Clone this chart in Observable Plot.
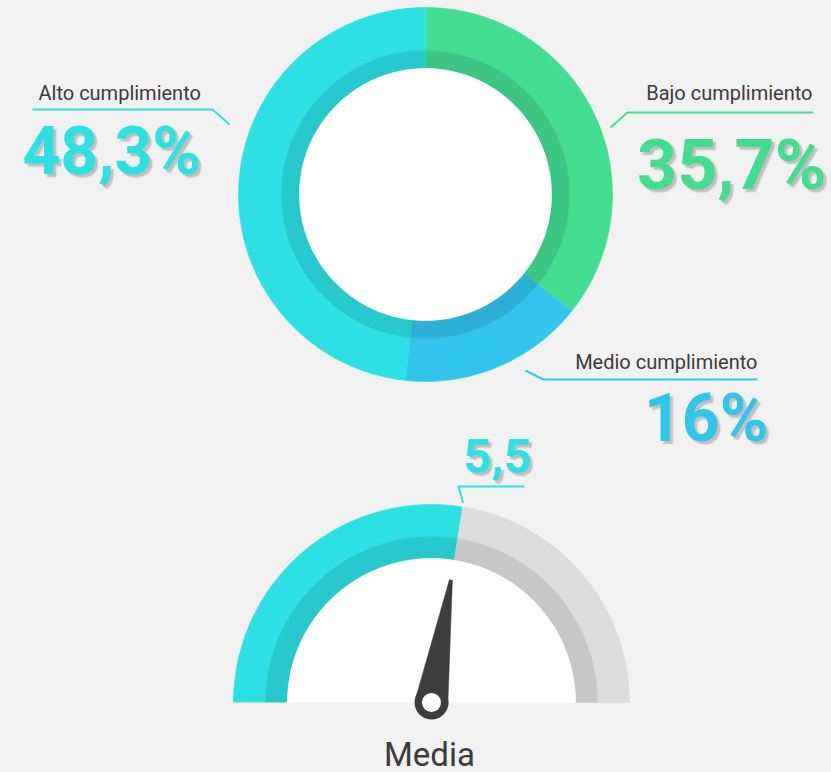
<!DOCTYPE html>
<html>
<head>
<meta charset="utf-8">
<script src="https://cdn.jsdelivr.net/npm/d3@7"></script>
<script src="https://cdn.jsdelivr.net/npm/@observablehq/plot@0.6"></script>
<style>
  html, body { margin: 0; padding: 0; background: #f2f2f2; }
  #chart { width: 831px; height: 772px; }
  .bignum text { text-shadow: 3px 3px 1.5px rgba(150,150,150,0.55); }
</style>
</head>
<body>
<div id="chart"></div>
<script>
// ---- Data ----
const categories = ["Bajo cumplimiento", "Medio cumplimiento", "Alto cumplimiento"];
const shares = [35.7, 16, 48.3];
const shareLabels = ["35,7%", "16%", "48,3%"];
const segColors = ["#42dd8f", "#32c5eb", "#2de0e3"];
const segDark = ["#3bc683", "#2cb0d6", "#27c8cb"];

const gaugeValue = 5.5;
const gaugeMax = 10;
const gaugeValueLabel = "5,5";
const gaugeTitle = "Media";
const gaugeColors = ["#2de0e3", "#dcdcdc"];
const gaugeDark = ["#27c8cb", "#c6c6c6"];

// ---- Layout ----
const W = 831, H = 772;
const donut = {cx: 425, cy: 194, rOut: 187, rMid: 144, rIn: 126};
const gauge = {cx: 431, cy: 702, rOut: 198, rMid: 166, rIn: 144};
const labelLayout = {
  "Alto cumplimiento": {anchor: "start", x: 38, titleY: 99, valueX: 22, valueY: 173, size: 66,
    leader: [[32, 109], [212, 109], [229, 124]]},
  "Bajo cumplimiento": {anchor: "end", x: 812, titleY: 99, valueX: 826, valueY: 188, size: 70,
    leader: [[813, 112], [627, 112], [610, 127]]},
  "Medio cumplimiento": {anchor: "end", x: 757, titleY: 368, valueX: 768, valueY: 440, size: 66,
    leader: [[757, 379], [543, 379], [525, 370]]}
};

// ---- Geometry helpers ----
const rad = a => a * Math.PI / 180;
function arcPts(cx, cy, r, a0, a1) {
  const n = Math.max(2, Math.ceil(Math.abs(a1 - a0)));
  const pts = [];
  for (let i = 0; i <= n; i++) {
    const a = rad(a0 + (a1 - a0) * i / n);
    pts.push([cx + r * Math.sin(a), cy - r * Math.cos(a)]);
  }
  return pts;
}
function ring(id, color, cx, cy, rIn, rOut, a0, a1) {
  const pts = [...arcPts(cx, cy, rOut, a0, a1), ...arcPts(cx, cy, rIn, a1, a0)];
  return pts.map(([x, y]) => ({id, color, x, y}));
}

const polys = [];
// donut
const angle = d3.scaleLinear().domain([0, d3.sum(shares)]).range([0, 360]);
let cum = 0;
shares.forEach((v, i) => {
  const a0 = angle(cum), a1 = angle(cum + v);
  cum += v;
  polys.push(...ring("o" + i, segColors[i], donut.cx, donut.cy, donut.rMid, donut.rOut, a0, a1));
  polys.push(...ring("d" + i, segDark[i], donut.cx, donut.cy, donut.rIn, donut.rMid, a0, a1));
});
polys.push(...ring("hole", "#ffffff", donut.cx, donut.cy, 0, donut.rIn, 0, 360));

// gauge
const gAngle = d3.scaleLinear().domain([0, gaugeMax]).range([-90, 90]);
const gSegs = [[0, gaugeValue], [gaugeValue, gaugeMax]];
gSegs.forEach(([v0, v1], i) => {
  polys.push(...ring("go" + i, gaugeColors[i], gauge.cx, gauge.cy, gauge.rMid, gauge.rOut, gAngle(v0), gAngle(v1)));
  polys.push(...ring("gd" + i, gaugeDark[i], gauge.cx, gauge.cy, gauge.rIn, gauge.rMid, gAngle(v0), gAngle(v1)));
});
polys.push(...ring("ghole", "#ffffff", gauge.cx, gauge.cy, 0, gauge.rIn, -90, 90));

// needle
const na = rad(gAngle(gaugeValue));
const needleLen = 124, baseHalf = 16.5, tipHalf = 1.5;
const ux = Math.sin(na), uy = -Math.cos(na);
const px = Math.cos(na), py = Math.sin(na);
const needle = [
  [gauge.cx + baseHalf * px, gauge.cy + baseHalf * py],
  [gauge.cx + needleLen * ux + tipHalf * px, gauge.cy + needleLen * uy + tipHalf * py],
  [gauge.cx + needleLen * ux - tipHalf * px, gauge.cy + needleLen * uy - tipHalf * py],
  [gauge.cx - baseHalf * px, gauge.cy - baseHalf * py]
].map(([x, y]) => ({id: "needle", color: "#3d3d3d", x, y}));

// leader lines
const leaders = [];
categories.forEach((c, i) => {
  labelLayout[c].leader.forEach(([x, y]) => leaders.push({id: c, color: segColors[i], x, y}));
});
const gLeadStart = [gauge.cx + (gauge.rOut + 4) * Math.sin(na), gauge.cy - (gauge.rOut + 4) * Math.cos(na)];
[[gLeadStart[0], gLeadStart[1]], [458, 486], [524, 486]].forEach(([x, y]) =>
  leaders.push({id: "gauge", color: gaugeColors[0], x, y}));

// ---- Marks ----
const font = "Roboto, 'Noto Sans', sans-serif";
const marks = [
  Plot.line(polys, {x: "x", y: "y", z: "id", fill: "color", stroke: "color", strokeWidth: 0.6, curve: "linear"}),
  Plot.line(needle, {x: "x", y: "y", z: "id", fill: "color", stroke: "color", strokeWidth: 0.5, curve: "linear"}),
  Plot.dot([{x: gauge.cx, y: gauge.cy}], {x: "x", y: "y", r: 17, fill: "#3d3d3d", stroke: null}),
  Plot.dot([{x: gauge.cx, y: gauge.cy}], {x: "x", y: "y", r: 9.5, fill: "#ffffff", stroke: null}),
  Plot.line(leaders, {x: "x", y: "y", z: "id", stroke: "color", strokeWidth: 2, curve: "linear", strokeLinecap: "butt"})
];

categories.forEach((c, i) => {
  const L = labelLayout[c];
  marks.push(Plot.text([{x: L.x, y: L.titleY, t: c}], {
    x: "x", y: "y", text: "t", textAnchor: L.anchor, lineAnchor: "bottom",
    fontSize: 20, fontFamily: font, fill: "#3b3b3b"
  }));
  marks.push(Plot.text([{x: L.valueX, y: L.valueY, t: shareLabels[i]}], {
    x: "x", y: "y", text: "t", textAnchor: L.anchor, lineAnchor: "bottom", className: "bignum",
    fontSize: L.size, fontWeight: 700, fontFamily: font, fill: segColors[i]
  }));
});

marks.push(Plot.text([{x: 463, y: 472, t: gaugeValueLabel}], {x: "x", y: "y", text: "t", textAnchor: "start",
  lineAnchor: "bottom", className: "bignum", fontSize: 49, fontWeight: 700, fontFamily: font, fill: gaugeColors[0]}));
marks.push(Plot.text([{x: gauge.cx - 2, y: 765, t: gaugeTitle}], {x: "x", y: "y", text: "t", textAnchor: "middle",
  lineAnchor: "bottom", fontSize: 33, fontFamily: font, fill: "#3b3b3b"}));

const chart = Plot.plot({
  width: W,
  height: H,
  margin: 0,
  x: {domain: [0, W], range: [0, W], axis: null},
  y: {domain: [0, H], range: [0, H], axis: null},
  color: {type: "identity"},
  style: {background: "transparent", overflow: "visible"},
  marks
});
document.getElementById("chart").appendChild(chart);
</script>
</body>
</html>
